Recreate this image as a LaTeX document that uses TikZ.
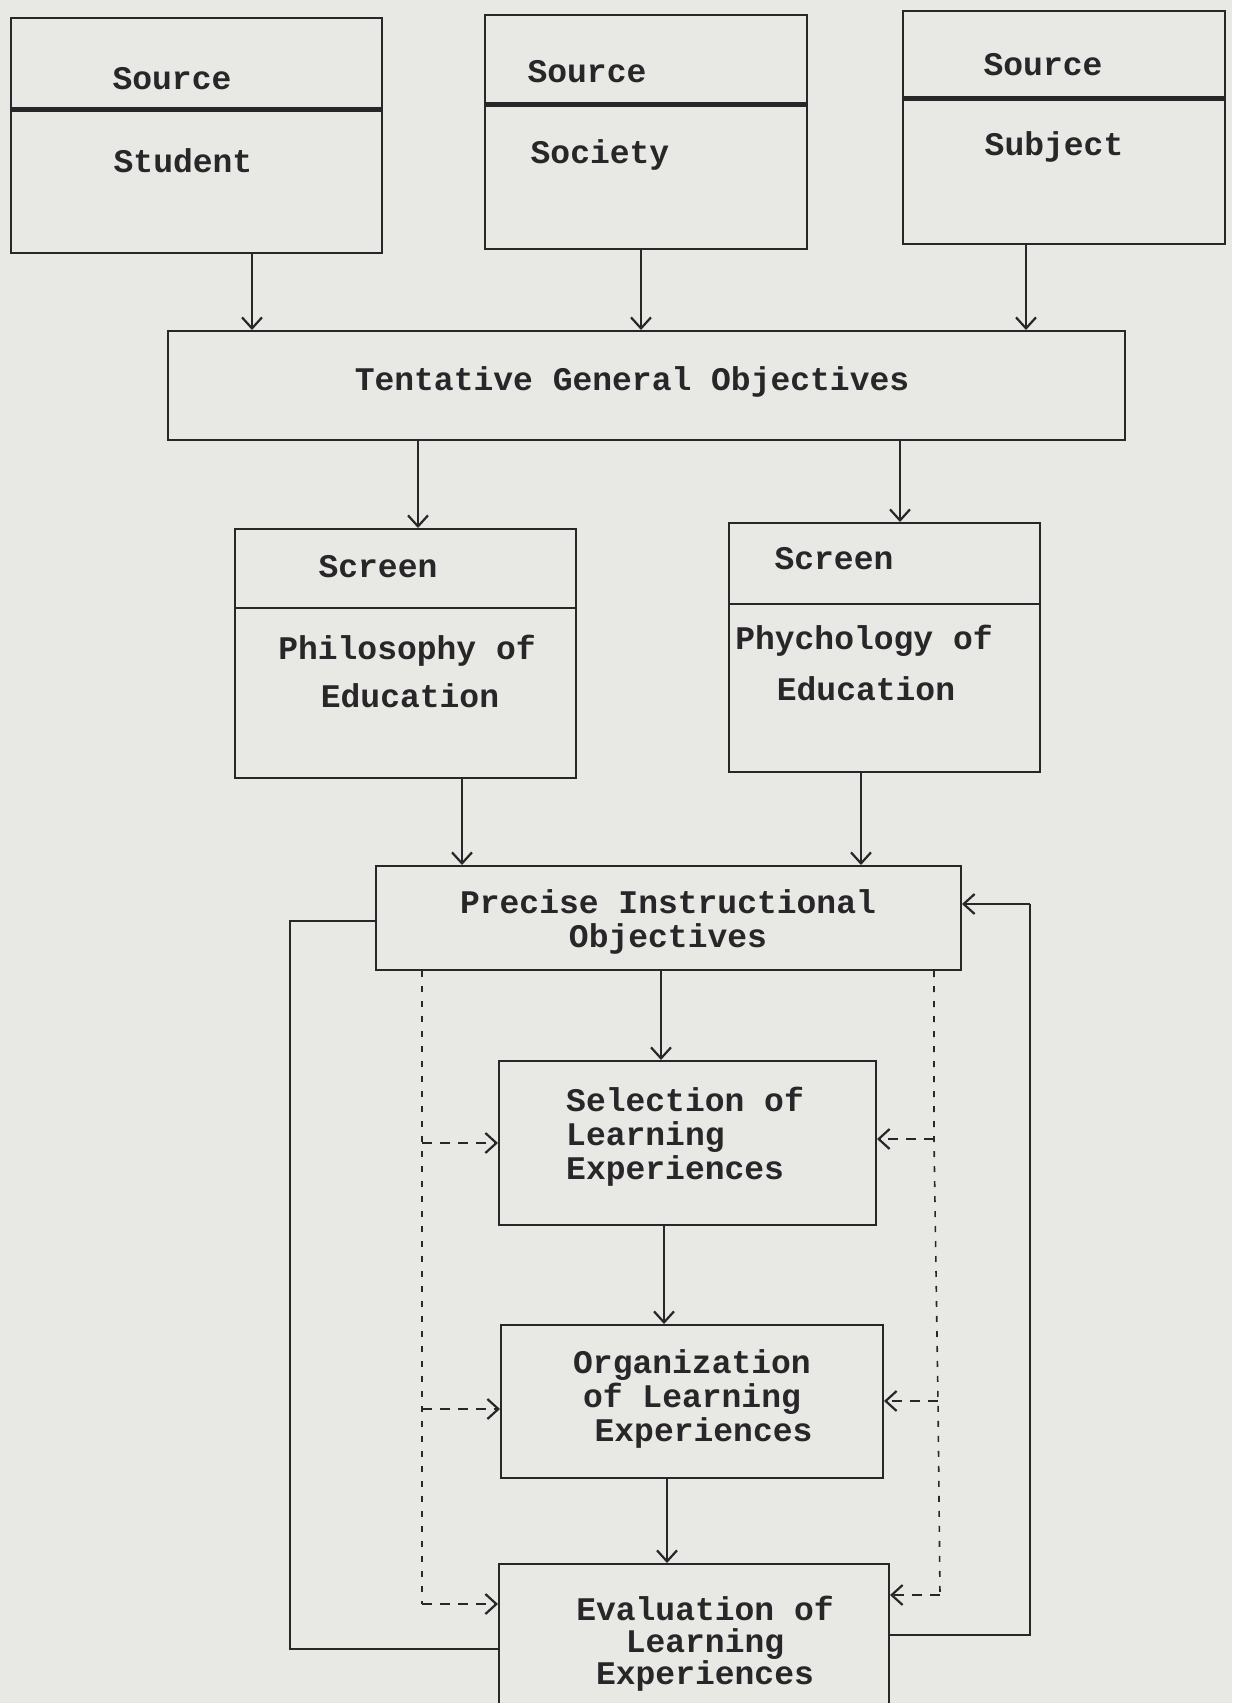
\documentclass[tikz,border=0pt]{standalone}
\usepackage{fontspec}
\setmainfont{Liberation Mono}
\usetikzlibrary{arrows.meta}
\definecolor{paper}{RGB}{232,232,229}
\definecolor{ink}{RGB}{40,38,40}
\begin{document}
\begin{tikzpicture}[x=1pt,y=-1pt,
  box/.style={draw=ink,line width=2pt,rectangle,inner sep=0pt},
  lbl/.style={font=\fontsize{33}{34}\selectfont\bfseries,text=ink,inner sep=0pt,align=center},
  lbll/.style={font=\fontsize{33}{34}\selectfont\bfseries,text=ink,inner sep=0pt,align=left},
  divider/.style={draw=ink,line width=5pt},
  thindiv/.style={draw=ink,line width=2pt},
  arr/.style={draw=ink,line width=1.6pt,-{Straight Barb[length=11pt,width=20pt,line width=2.2pt]}},
  plain/.style={draw=ink,line width=1.8pt},
  darr/.style={draw=ink,line width=1.8pt,dash pattern=on 10pt off 8pt,-{Straight Barb[length=11pt,width=20pt,line width=2.2pt]}},
  dline/.style={draw=ink,line width=1.6pt,dash pattern=on 6pt off 9pt}]
\useasboundingbox (0,0) rectangle (1232,1703);
\clip (0,0) rectangle (1232,1703);
\fill[paper] (0,0) rectangle (1232,1703);

% boxes
\node[box,minimum width=371pt,minimum height=235pt] (student) at (196.5,135.5) {};
\node[box,minimum width=322pt,minimum height=234pt] (society) at (646,132) {};
\node[box,minimum width=322pt,minimum height=233pt] (subject) at (1064,127.5) {};
\node[box,minimum width=957pt,minimum height=109pt] (tgo) at (646.5,385.5) {};
\node[box,minimum width=341pt,minimum height=249pt] (phil) at (405.5,653.5) {};
\node[box,minimum width=311pt,minimum height=249pt] (psych) at (884.5,647.5) {};
\node[box,minimum width=585pt,minimum height=104pt] (pio) at (668.5,918) {};
\node[box,minimum width=377pt,minimum height=164pt] (sel) at (687.5,1143) {};
\node[box,minimum width=382pt,minimum height=153pt] (org) at (692,1401.5) {};
\node[box,minimum width=390pt,minimum height=196pt] (eval) at (694,1662) {};

% dividers
\coordinate (d1) at (0,109);
\coordinate (d2) at (0,104);
\coordinate (d3) at (0,98);
\coordinate (d4) at (0,608);
\coordinate (d5) at (0,604);
\draw[divider] (student.west |- d1) -- (student.east |- d1);
\draw[divider] (society.west |- d2) -- (society.east |- d2);
\draw[divider] (subject.west |- d3) -- (subject.east |- d3);
\draw[thindiv] (phil.west |- d4) -- (phil.east |- d4);
\draw[thindiv] (psych.west |- d5) -- (psych.east |- d5);

% texts
\node[lbl] (t1) at (172,79) {Source};
\node[lbl] (t2) at (183,161) {Student};
\node[lbl] (t3) at (587,72) {Source};
\node[lbl] (t4) at (600,155) {Society};
\node[lbl] (t5) at (1043,65) {Source};
\node[lbl] (t6) at (1054,147) {Subject};
\node[lbl] (t7) at (632,382) {Tentative General Objectives};
\node[lbl] (t8) at (378,567) {Screen};
\node[lbl] (t9a) at (407,651) {Philosophy of};
\node[lbl] (t9b) at (410,696) {Education};
\node[lbl] (t10) at (834,559) {Screen};
\node[lbl] (t11a) at (864,641) {Phychology of};
\node[lbl] (t11b) at (866,689) {Education};
\node[lbl] (t12) at (668,922) {Precise Instructional\\Objectives};
\node[lbll,anchor=west] (t13) at (566,1137) {Selection of\\Learning\\Experiences};
\node[lbl] (t14) at (692,1399) {Organization\\of Learning\\\hspace*{0.7em}Experiences};
\node[lbl,font=\fontsize{33}{32}\selectfont\bfseries] (t17) at (705,1644) {Evaluation of\\Learning\\Experiences};

% x positions of connectors
\coordinate (a1) at (252,0);
\coordinate (a2) at (641,0);
\coordinate (a3) at (1026,0);
\coordinate (b1) at (418,0);
\coordinate (b2) at (900,0);
\coordinate (c1) at (462,0);
\coordinate (c2) at (861,0);
\coordinate (e1) at (661,0);
\coordinate (e2) at (664,0);
\coordinate (e3) at (667,0);

\draw[arr] (student.south -| a1) -- (tgo.north -| a1);
\draw[arr] (society.south -| a2) -- (tgo.north -| a2);
\draw[arr] (subject.south -| a3) -- (tgo.north -| a3);
\draw[arr] (tgo.south -| b1) -- (phil.north -| b1);
\draw[arr] (tgo.south -| b2) -- (psych.north -| b2);
\draw[arr] (phil.south -| c1) -- (pio.north -| c1);
\draw[arr] (psych.south -| c2) -- (pio.north -| c2);
\draw[arr] (pio.south -| e1) -- (sel.north -| e1);
\draw[arr] (sel.south -| e2) -- (org.north -| e2);
\draw[arr] (org.south -| e3) -- (eval.north -| e3);

% solid feedback loops
\coordinate (fl1) at (290,921);
\coordinate (fl2) at (290,1649);
\draw[plain] (pio.west |- fl1) -- (fl1) -- (fl2) -- (eval.west |- fl2);
\coordinate (fr1) at (1030,1635);
\coordinate (fr2) at (1030,904);
\draw[plain] (eval.east |- fr1) -- (fr1) -- (fr2);
\draw[arr] (fr2) -- (pio.east |- fr2);

% dashed left
\coordinate (dl0) at (422,0);
\coordinate (dl1) at (422,1143);
\coordinate (dl2) at (422,1409);
\coordinate (dl3) at (422,1604);
\draw[dline] (pio.south -| dl0) -- (dl3);
\draw[darr] (dl1) -- (sel.west |- dl1);
\draw[darr] (dl2) -- (org.west |- dl2);
\draw[darr] (dl3) -- (eval.west |- dl3);

% dashed right
\coordinate (dr0) at (934,0);
\coordinate (dr1) at (934,1139);
\coordinate (dr2) at (938,1401);
\coordinate (dr3) at (940,1595);
\draw[dline] (pio.south -| dr0) -- (dr1) -- (dr2) -- (dr3);
\draw[darr] (dr1) -- (sel.east |- dr1);
\draw[darr] (dr2) -- (org.east |- dr2);
\draw[darr] (dr3) -- (eval.east |- dr3);
\end{tikzpicture}
\end{document}
